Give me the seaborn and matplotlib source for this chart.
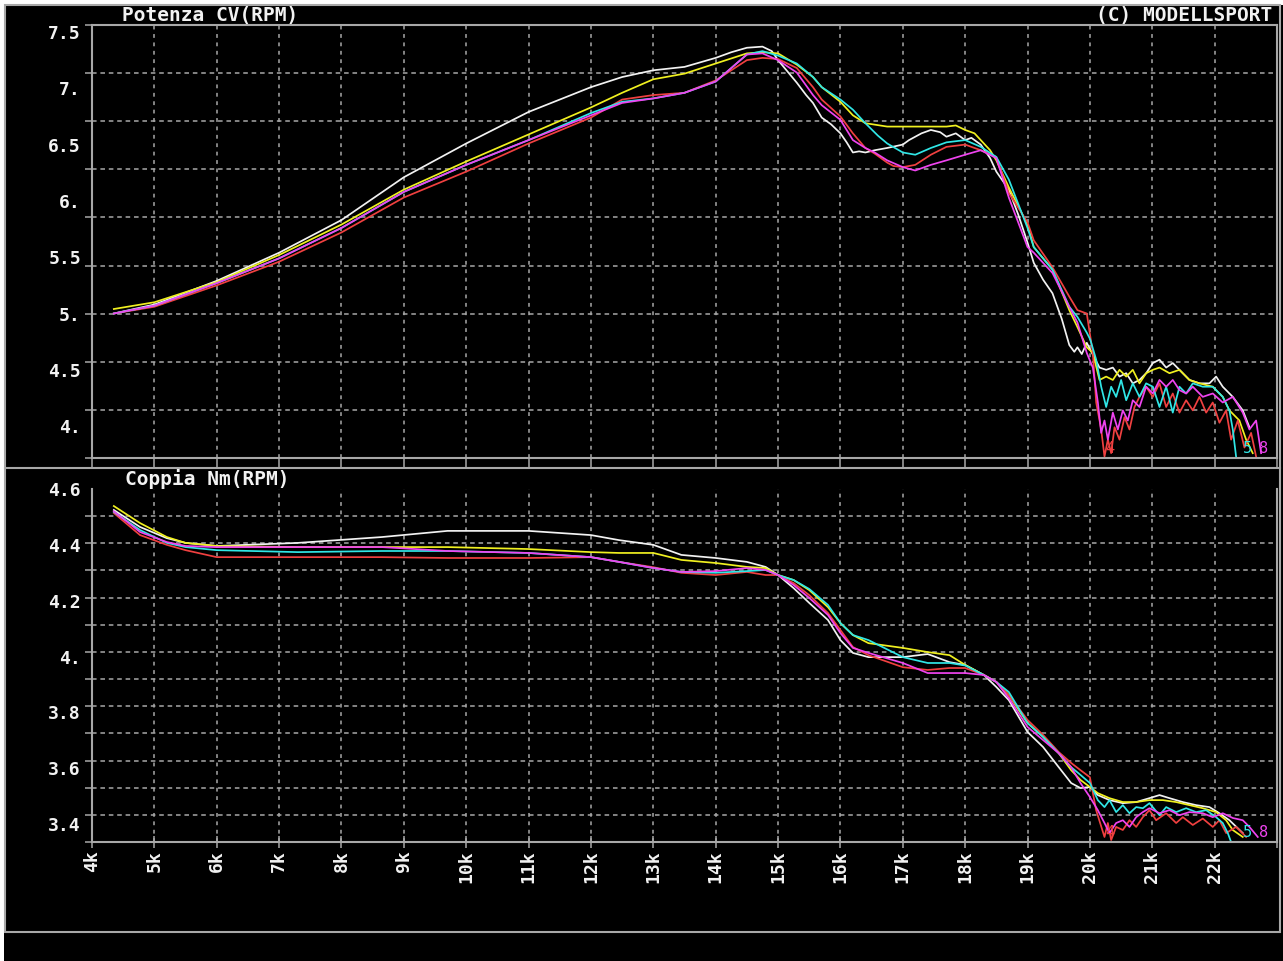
import numpy as np
import pandas as pd
import matplotlib
matplotlib.use("Agg")
import matplotlib.pyplot as plt
from matplotlib.patches import Rectangle
from matplotlib.lines import Line2D
import seaborn as sns

# ---------------- data ----------------
run_names = ["bianco", "giallo", "rosso", "ciano", "magenta"]
run_colors = ["#f2f2f2", "#f0f020", "#f04040", "#30e6e6", "#f044f0"]

# ---- Potenza CV(RPM) ----
rpm_cv_bianco = [4350, 5000, 6000, 7000, 8000, 9000, 10000, 11000, 12000, 12500, 13000, 13500,
                 14000, 14250, 14500, 14750, 14900, 15000, 15150, 15300, 15450, 15560, 15700,
                 15850, 16000, 16100, 16200, 16300, 16400, 16550, 16750, 17000, 17100, 17200,
                 17300, 17450, 17600, 17700, 17850, 18000, 18100, 18250, 18400, 18500, 18700,
                 18850, 19000, 19100, 19250, 19400, 19550, 19670, 19750, 19800, 19870, 19950,
                 20005, 20154, 20261, 20368, 20475, 20582, 20688, 20795, 20902, 21009, 21116,
                 21223, 21329, 21436, 21596, 21757, 21917, 22024, 22130, 22291, 22451, 22558]
cv_bianco = [5.00, 5.08, 5.29, 5.54, 5.83, 6.21, 6.51, 6.79, 7.01, 7.10, 7.16, 7.19,
             7.27, 7.32, 7.36, 7.37, 7.33, 7.25, 7.15, 7.05, 6.94, 6.87, 6.74,
             6.68, 6.60, 6.52, 6.43, 6.44, 6.43, 6.45, 6.47, 6.50, 6.54, 6.57,
             6.60, 6.63, 6.61, 6.57, 6.60, 6.54, 6.56, 6.50, 6.38, 6.26, 6.10,
             5.88, 5.63, 5.45, 5.30, 5.18, 4.95, 4.72, 4.66, 4.70, 4.64, 4.74,
             4.68, 4.52, 4.50, 4.52, 4.44, 4.47, 4.38, 4.41, 4.47, 4.56, 4.59,
             4.52, 4.56, 4.50, 4.41, 4.38, 4.38, 4.44, 4.35, 4.26, 4.14, 3.99]

rpm_cv_giallo = [4350, 5000, 6000, 7000, 8000, 9000, 10000, 11000, 12000, 12500, 13000, 13500,
                 14000, 14500, 14750, 15000, 15300, 15560, 15700, 16000, 16200, 16400, 16750,
                 17000, 17450, 17700, 17850, 18000, 18150, 18250, 18400, 18500, 18700, 19000,
                 19100, 19400, 19670, 19800, 19950,
                 20047, 20154, 20261, 20368, 20475, 20582, 20688, 20795, 20902, 21009, 21116,
                 21276, 21436, 21596, 21757, 21970, 22130, 22237, 22397, 22505, 22611]
cv_giallo = [5.04, 5.10, 5.28, 5.52, 5.79, 6.10, 6.35, 6.59, 6.83, 6.96, 7.08, 7.13,
             7.22, 7.31, 7.32, 7.31, 7.21, 7.10, 7.01, 6.88, 6.76, 6.69, 6.66,
             6.66, 6.66, 6.66, 6.67, 6.63, 6.60, 6.54, 6.45, 6.36, 6.12, 5.79,
             5.59, 5.39, 5.03, 4.88, 4.70,
             4.65, 4.41, 4.44, 4.41, 4.50, 4.44, 4.50, 4.38, 4.47, 4.50, 4.52,
             4.47, 4.50, 4.41, 4.38, 4.35, 4.26, 4.14, 4.05, 3.88, 3.76]

rpm_cv_rosso = [4350, 5000, 6000, 7000, 8000, 9000, 10000, 11000, 12000, 12500, 13000, 13500,
                14000, 14500, 14750, 15000, 15300, 15560, 15700, 16000, 16200, 16400, 16550,
                16750, 16850, 17000, 17200, 17450, 17700, 18000, 18250, 18500, 18700, 19000,
                19100, 19400, 19670, 19800, 19950,
                20047, 20101, 20181, 20234, 20288, 20341, 20395, 20475, 20555, 20635, 20715,
                20795, 20902, 21009, 21116, 21223, 21329, 21436, 21543, 21650, 21757, 21864,
                21970, 22077, 22184, 22264, 22371, 22478, 22585, 22665]
cv_rosso = [5.00, 5.06, 5.25, 5.46, 5.72, 6.03, 6.26, 6.51, 6.74, 6.90, 6.94, 6.96,
            7.07, 7.25, 7.27, 7.26, 7.18, 7.01, 6.90, 6.75, 6.60, 6.47, 6.42,
            6.34, 6.31, 6.30, 6.32, 6.41, 6.48, 6.50, 6.45, 6.39, 6.07, 5.81,
            5.65, 5.41, 5.15, 5.03, 5.00,
            4.65, 4.21, 3.97, 3.73, 3.88, 3.76, 3.99, 3.88, 4.08, 3.97, 4.17,
            4.26, 4.35, 4.26, 4.38, 4.17, 4.29, 4.12, 4.23, 4.14, 4.26, 4.12,
            4.21, 4.03, 4.14, 3.88, 4.05, 3.81, 3.94, 3.73]

rpm_cv_ciano = [4350, 5000, 6000, 7000, 8000, 9000, 10000, 11000, 12000, 12500, 13000, 13500,
                14000, 14500, 14750, 15000, 15300, 15560, 15700, 16000, 16200, 16400, 16600,
                16750, 17000, 17200, 17450, 17700, 18000, 18250, 18500, 18700, 19000, 19100,
                19400, 19670, 19800, 19950,
                20005, 20101, 20181, 20261, 20341, 20421, 20501, 20582, 20688, 20795, 20902,
                21009, 21116, 21223, 21329, 21436, 21543, 21650, 21810, 21970, 22130, 22237,
                22291, 22344]
cv_ciano = [5.00, 5.07, 5.27, 5.49, 5.76, 6.08, 6.32, 6.54, 6.78, 6.88, 6.91, 6.96,
            7.06, 7.30, 7.33, 7.29, 7.22, 7.10, 7.01, 6.90, 6.81, 6.69, 6.58,
            6.51, 6.43, 6.41, 6.47, 6.52, 6.54, 6.48, 6.39, 6.19, 5.76, 5.59,
            5.39, 5.06, 4.97, 4.83,
            4.77, 4.59, 4.35, 4.17, 4.35, 4.26, 4.41, 4.23, 4.38, 4.26, 4.38,
            4.35, 4.17, 4.35, 4.12, 4.35, 4.29, 4.38, 4.35, 4.35, 4.26, 4.14,
            3.97, 3.73]

rpm_cv_magenta = [4350, 5000, 6000, 7000, 8000, 9000, 10000, 11000, 12000, 12500, 13000, 13500,
                  14000, 14500, 14750, 15000, 15300, 15560, 15700, 16000, 16200, 16400, 16550,
                  16750, 17000, 17200, 17450, 17700, 18000, 18250, 18500, 18700, 19000, 19100,
                  19400, 19670, 19800, 19950,
                  20047, 20128, 20181, 20234, 20288, 20368, 20448, 20528, 20608, 20688, 20795,
                  20902, 21009, 21116, 21223, 21329, 21436, 21543, 21650, 21810, 21970, 22130,
                  22291, 22451, 22558, 22665, 22745]
cv_magenta = [5.00, 5.07, 5.27, 5.49, 5.76, 6.08, 6.32, 6.54, 6.76, 6.87, 6.91, 6.96,
              7.06, 7.30, 7.31, 7.25, 7.14, 6.94, 6.85, 6.72, 6.54, 6.47, 6.43,
              6.36, 6.30, 6.27, 6.32, 6.36, 6.41, 6.45, 6.38, 6.03, 5.59, 5.54,
              5.36, 5.06, 4.92, 4.65,
              4.52, 4.21, 3.94, 4.05, 3.88, 4.12, 3.97, 4.14, 4.05, 4.23, 4.17,
              4.35, 4.29, 4.41, 4.35, 4.41, 4.32, 4.29, 4.35, 4.26, 4.29, 4.21,
              4.26, 4.12, 3.97, 4.05, 3.76]

# ---- Coppia Nm(RPM) ----
rpm_nm_base = [4350, 4770, 5200, 5500, 6000, 7300, 8650, 9700, 11000, 12000, 12450, 13000,
               13450, 14000, 14500, 14800, 15000, 15250, 15500, 15800, 16000, 16200, 16450,
               17000, 17400, 17750, 18000, 18300, 18500, 18700, 19000, 19250, 19500, 19700,
               19850, 20000]
nm_bianco = [4.525, 4.464, 4.424, 4.407, 4.396, 4.407, 4.428, 4.450, 4.450, 4.435, 4.417, 4.400,
             4.364, 4.353, 4.339, 4.321, 4.292, 4.245, 4.192, 4.131, 4.059, 4.013, 3.998,
             3.998, 4.009, 3.980, 3.970, 3.934, 3.891, 3.844, 3.730, 3.676, 3.604, 3.547,
             3.529, 3.533]
nm_giallo = [4.539, 4.478, 4.428, 4.407, 4.396, 4.392, 4.392, 4.392, 4.385, 4.374, 4.371, 4.371,
             4.346, 4.335, 4.321, 4.317, 4.292, 4.274, 4.238, 4.177, 4.120, 4.077, 4.048,
             4.031, 4.016, 4.005, 3.970, 3.934, 3.909, 3.862, 3.762, 3.712, 3.654, 3.593,
             3.558, 3.533]
nm_rosso = [4.514, 4.435, 4.400, 4.381, 4.356, 4.356, 4.356, 4.353, 4.353, 4.356, 4.339, 4.320,
            4.300, 4.292, 4.303, 4.292, 4.292, 4.263, 4.220, 4.156, 4.095, 4.034, 4.005,
            3.962, 3.952, 3.959, 3.959, 3.934, 3.909, 3.862, 3.773, 3.719, 3.658, 3.619,
            3.593, 3.568]
nm_ciano = [4.518, 4.453, 4.407, 4.392, 4.381, 4.374, 4.378, 4.378, 4.371, 4.356, 4.339, 4.317,
            4.303, 4.300, 4.306, 4.310, 4.292, 4.274, 4.242, 4.185, 4.120, 4.077, 4.059,
            3.998, 3.977, 3.977, 3.968, 3.934, 3.909, 3.873, 3.762, 3.712, 3.654, 3.604,
            3.576, 3.547]
nm_magenta = [4.520, 4.446, 4.410, 4.396, 4.392, 4.392, 4.392, 4.378, 4.371, 4.356, 4.339, 4.317,
              4.303, 4.306, 4.317, 4.310, 4.292, 4.256, 4.210, 4.149, 4.084, 4.031, 4.013,
              3.977, 3.941, 3.941, 3.941, 3.934, 3.909, 3.851, 3.748, 3.701, 3.654, 3.604,
              3.547, 3.497]

rpm_nm_tail_bianco = [20127, 20314, 20528, 20742, 20955, 21116, 21276, 21490, 21703, 21917,
                      22077, 22237, 22451]
nm_tail_bianco = [3.504, 3.486, 3.475, 3.479, 3.493, 3.504, 3.493, 3.479, 3.468, 3.461,
                  3.439, 3.414, 3.368]
rpm_nm_tail_giallo = [20127, 20314, 20528, 20742, 20955, 21170, 21383, 21596, 21810, 22024,
                      22184, 22291, 22451]
nm_tail_giallo = [3.511, 3.493, 3.479, 3.479, 3.486, 3.486, 3.479, 3.468, 3.457, 3.443,
                  3.414, 3.379, 3.354]
rpm_nm_tail_rosso = [20100, 20234, 20288, 20341, 20421, 20528, 20635, 20742, 20849, 20955,
                     21062, 21223, 21383, 21490, 21650, 21810, 21970, 22077, 22184, 22344, 22505]
nm_tail_rosso = [3.450, 3.354, 3.404, 3.343, 3.390, 3.379, 3.414, 3.390, 3.425, 3.450,
                 3.414, 3.439, 3.404, 3.425, 3.397, 3.420, 3.390, 3.414, 3.368, 3.390, 3.354]
rpm_nm_tail_ciano = [20127, 20234, 20314, 20421, 20528, 20635, 20742, 20849, 20955, 21116,
                     21223, 21383, 21543, 21703, 21864, 22024, 22130, 22211, 22264]
nm_tail_ciano = [3.486, 3.461, 3.486, 3.443, 3.468, 3.439, 3.461, 3.457, 3.475, 3.432,
                 3.461, 3.443, 3.457, 3.443, 3.450, 3.425, 3.404, 3.368, 3.336]
rpm_nm_tail_magenta = [20127, 20234, 20314, 20421, 20528, 20635, 20742, 20849, 20955, 21116,
                       21276, 21436, 21596, 21810, 21970, 22130, 22291, 22451, 22558, 22692]
nm_tail_magenta = [3.450, 3.404, 3.368, 3.404, 3.414, 3.390, 3.425, 3.443, 3.457, 3.439,
                   3.450, 3.432, 3.443, 3.439, 3.425, 3.439, 3.422, 3.414, 3.390, 3.354]

yticks_cv = [7.5, 7.0, 6.5, 6.0, 5.5, 5.0, 4.5, 4.0]
yticklabels_cv = ["7.5", "7.", "6.5", "6.", "5.5", "5.", "4.5", "4."]
yticks_nm = [4.6, 4.4, 4.2, 4.0, 3.8, 3.6, 3.4]
yticklabels_nm = ["4.6", "4.4", "4.2", "4.", "3.8", "3.6", "3.4"]
xticks_rpm = list(range(4000, 23001, 1000))
xticklabels_rpm = [f"{k}k" for k in range(4, 23)] + [""]

# ---------------- build tables ----------------
cv_sets = {
    "bianco": (rpm_cv_bianco, cv_bianco),
    "giallo": (rpm_cv_giallo, cv_giallo),
    "rosso": (rpm_cv_rosso, cv_rosso),
    "ciano": (rpm_cv_ciano, cv_ciano),
    "magenta": (rpm_cv_magenta, cv_magenta),
}
df_cv = pd.concat([pd.DataFrame({"rpm": r, "val": v, "run": k}) for k, (r, v) in cv_sets.items()],
                  ignore_index=True)

nm_sets = {
    "bianco": (rpm_nm_base + rpm_nm_tail_bianco, nm_bianco + nm_tail_bianco),
    "giallo": (rpm_nm_base + rpm_nm_tail_giallo, nm_giallo + nm_tail_giallo),
    "rosso": (rpm_nm_base + rpm_nm_tail_rosso, nm_rosso + nm_tail_rosso),
    "ciano": (rpm_nm_base + rpm_nm_tail_ciano, nm_ciano + nm_tail_ciano),
    "magenta": (rpm_nm_base + rpm_nm_tail_magenta, nm_magenta + nm_tail_magenta),
}
df_nm = pd.concat([pd.DataFrame({"rpm": r, "val": v, "run": k}) for k, (r, v) in nm_sets.items()],
                  ignore_index=True)
palette = dict(zip(run_names, run_colors))

# ---------------- figure ----------------
W, H = 1283, 961
fig = plt.figure(figsize=(W / 100, H / 100), dpi=100, facecolor="white")
GREY = "#a8a8a8"
WHITE = "#f2f2f2"
MONO = ["DejaVu Sans Mono"]

fig.patches.append(Rectangle((4 / W, 0), 1 - 4 / W, (H - 5) / H, transform=fig.transFigure,
                             facecolor="black", edgecolor="none", zorder=-10))
fig.patches.append(Rectangle((5 / W, (H - 932) / H), (1280 - 5) / W, (932 - 5) / H,
                             transform=fig.transFigure, fill=False, edgecolor=GREY,
                             linewidth=1.5, zorder=-5))
fig.lines.append(Line2D([5 / W, 1280 / W], [(H - 468) / H] * 2, transform=fig.transFigure,
                        color=GREY, linewidth=1.5, zorder=-5))

ax1 = fig.add_axes([92 / W, (H - 458) / H, (1277 - 92) / W, (458 - 25) / H])
ax2 = fig.add_axes([92 / W, (H - 842) / H, (1277 - 92) / W, (842 - 489) / H])

for ax, df, ylim, yt, ytl, ngrid in [
    (ax1, df_cv, (3.717, 7.562), yticks_cv, yticklabels_cv, 10),
    (ax2, df_nm, (3.336, 4.6), yticks_nm, yticklabels_nm, 14),
]:
    ax.set_facecolor("black")
    sns.lineplot(data=df, x="rpm", y="val", hue="run", hue_order=run_names, palette=palette,
                 estimator=None, sort=False, linewidth=1.25, legend=False, ax=ax)
    ax.set_xlim(4000, 23000)
    ax.set_ylim(*ylim)
    ax.set_xlabel("")
    ax.set_ylabel("")
    ax.set_axisbelow(True)
    # y: labels at value positions, grid at equally spaced minor ticks
    ax.set_yticks(yt)
    ax.set_yticklabels(ytl, fontfamily=MONO, fontweight="bold", fontsize=13, color=WHITE)
    ax.set_yticks(np.linspace(ylim[0], ylim[1], ngrid), minor=True)
    ax.tick_params(axis="y", which="major", length=0, pad=8)
    ax.tick_params(axis="y", which="minor", length=5, width=1.1, color=GREY, direction="out")
    ax.set_xticks(xticks_rpm)
    ax.grid(False)
    ax.yaxis.grid(True, which="minor", color=GREY, linestyle=(0, (3, 2.5)), linewidth=1.1)
    ax.xaxis.grid(True, which="major", color=GREY, linestyle=(0, (2.5, 3)), linewidth=1.1)
    for s in ax.spines.values():
        s.set_color(GREY)
        s.set_linewidth(1.5)

ax1.set_xticklabels([])
ax1.tick_params(axis="x", direction="out", length=7.2, width=1.1, color=GREY)

ax2.spines["top"].set_visible(False)
ax2.set_xticklabels(xticklabels_rpm, fontfamily=MONO, fontweight="bold", fontsize=13,
                    color=WHITE, rotation=90)
ax2.tick_params(axis="x", direction="inout", length=8, width=1.1, color=GREY, pad=2)

# titles
fig.text(122 / W, 1 - 16 / H, "Potenza CV(RPM)", ha="left", va="center", color=WHITE,
         fontsize=14, fontweight="bold", family=MONO)
fig.text(1272 / W, 1 - 16 / H, "(C) MODELLSPORT", ha="right", va="center", color=WHITE,
         fontsize=14, fontweight="bold", family=MONO)
fig.text(125 / W, 1 - 479 / H, "Coppia Nm(RPM)", ha="left", va="center", color=WHITE,
         fontsize=14, fontweight="bold", family=MONO)

# run tags at the end of the curves
for ax, yv in [(ax1, 3.80), (ax2, 3.37)]:
    ax.text(20320, yv, "4", color=palette["rosso"], ha="center", va="center", fontsize=11,
            family=MONO)
    ax.text(22520, yv, "5", color=palette["ciano"], ha="center", va="center", fontsize=11,
            family=MONO)
    ax.text(22790, yv, "8", color=palette["magenta"], ha="center", va="center", fontsize=11,
            family=MONO)

fig.savefig("out.png", dpi=100, facecolor=fig.get_facecolor())
